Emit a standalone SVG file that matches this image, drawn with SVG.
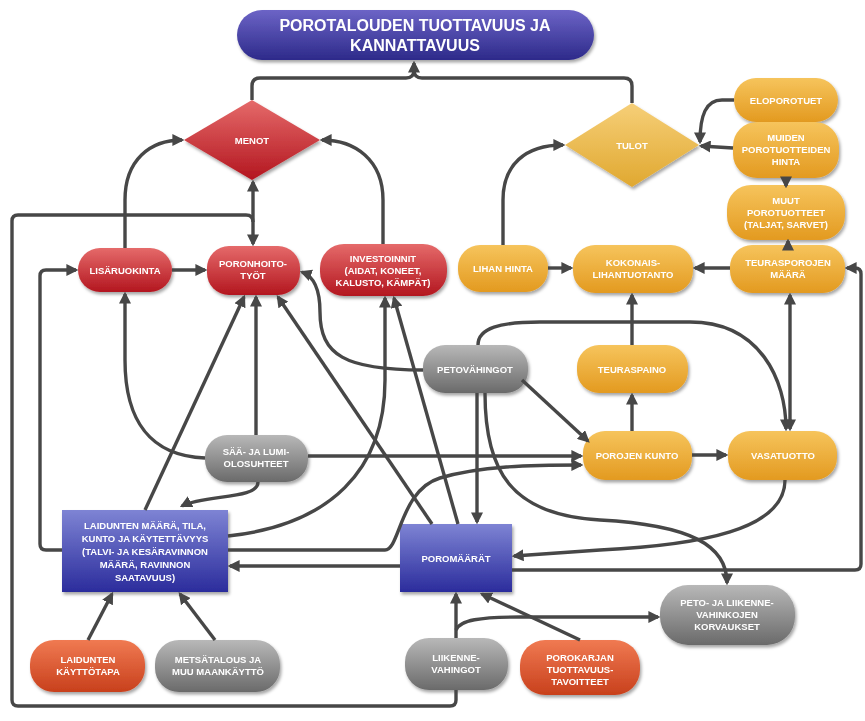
<svg xmlns="http://www.w3.org/2000/svg" width="865" height="721" viewBox="0 0 865 721">
<defs>
<linearGradient id="gRed" x1="0" y1="0" x2="0" y2="1"><stop offset="0" stop-color="#e56a6a"/><stop offset="1" stop-color="#b3161f"/></linearGradient>
<linearGradient id="gOr" x1="0" y1="0" x2="0" y2="1"><stop offset="0" stop-color="#f6c45c"/><stop offset="1" stop-color="#e39a20"/></linearGradient>
<linearGradient id="gGray" x1="0" y1="0" x2="0" y2="1"><stop offset="0" stop-color="#b8b8b8"/><stop offset="1" stop-color="#6a6a6a"/></linearGradient>
<linearGradient id="gTom" x1="0" y1="0" x2="0" y2="1"><stop offset="0" stop-color="#f07a52"/><stop offset="1" stop-color="#c8401c"/></linearGradient>
<linearGradient id="gBlue" x1="0" y1="0" x2="0" y2="1"><stop offset="0" stop-color="#7e84d4"/><stop offset="1" stop-color="#2b2c9c"/></linearGradient>
<linearGradient id="gTitle" x1="0" y1="0" x2="0" y2="1"><stop offset="0" stop-color="#6c64c6"/><stop offset="1" stop-color="#2d2a8a"/></linearGradient>
<linearGradient id="gTulot" x1="0" y1="0" x2="0" y2="1"><stop offset="0" stop-color="#f6cf78"/><stop offset="1" stop-color="#e0a830"/></linearGradient>
<filter id="sh" x="-20%" y="-20%" width="140%" height="150%"><feDropShadow dx="1.5" dy="2.5" stdDeviation="1.8" flood-color="#000" flood-opacity="0.35"/></filter>
<marker id="ah" viewBox="0 0 10 10" refX="8" refY="5" markerWidth="12" markerHeight="12" markerUnits="userSpaceOnUse" orient="auto-start-reverse"><path d="M0,0 L10,5 L0,10 z" fill="#474747"/></marker>
<style>
.t{font-family:"Liberation Sans",Arial,sans-serif;font-weight:bold;font-size:9.5px;fill:#fff;text-anchor:middle}
.tt{font-family:"Liberation Sans",Arial,sans-serif;font-weight:bold;font-size:16px;fill:#fff;text-anchor:middle}
.n{filter:url(#sh)}
.red{fill:url(#gRed)}
.or{fill:url(#gOr)}
.gr{fill:url(#gGray)}
.tom{fill:url(#gTom)}
.bl{fill:url(#gBlue)}
.c path{fill:none;stroke:#474747;stroke-width:3.4;stroke-linejoin:round}
.c .a{marker-end:url(#ah)}
.c .b{marker-start:url(#ah);marker-end:url(#ah)}
</style>
</defs>
<rect width="865" height="721" fill="#fff"/>

<g id="title" class="n"><rect x="237" y="10" width="357" height="50" rx="25" fill="url(#gTitle)"/><text class="tt" x="415" y="31">POROTALOUDEN TUOTTAVUUS JA</text><text class="tt" x="415" y="51">KANNATTAVUUS</text></g>

<g id="menot" class="n"><polygon points="252,100 320,140 252,180 184,140" fill="url(#gRed)"/><text class="t" x="252" y="144">MENOT</text></g>
<g id="tulot" class="n"><polygon points="632,103 699,145 632,187 565,145" fill="url(#gTulot)"/><text class="t" x="632" y="149">TULOT</text></g>

<g id="lisaruokinta" class="n"><rect class="red" x="78" y="248" width="94" height="44" rx="22"/><text class="t" x="125" y="274">LISÄRUOKINTA</text></g>
<g id="poronhoitotyot" class="n"><rect class="red" x="207" y="246" width="93" height="49" rx="22"/><text class="t" x="253" y="267">PORONHOITO-</text><text class="t" x="253" y="279">TYÖT</text></g>
<g id="investoinnit" class="n"><rect class="red" x="320" y="244" width="127" height="52" rx="24"/><text class="t" x="383" y="262">INVESTOINNIT</text><text class="t" x="383" y="274">(AIDAT, KONEET,</text><text class="t" x="383" y="286">KALUSTO, KÄMPÄT)</text></g>

<g id="eloporotuet" class="n"><rect class="or" x="734" y="78" width="104" height="44" rx="22"/><text class="t" x="786" y="104">ELOPOROTUET</text></g>
<g id="muiden" class="n"><rect class="or" x="733" y="122" width="106" height="56" rx="24"/><text class="t" x="786" y="141">MUIDEN</text><text class="t" x="786" y="153">POROTUOTTEIDEN</text><text class="t" x="786" y="165">HINTA</text></g>
<g id="muut" class="n"><rect class="or" x="727" y="185" width="118" height="55" rx="24"/><text class="t" x="786" y="204">MUUT</text><text class="t" x="786" y="216">POROTUOTTEET</text><text class="t" x="786" y="228">(TALJAT, SARVET)</text></g>
<g id="teurasporojen" class="n"><rect class="or" x="730" y="245" width="115" height="48" rx="22"/><text class="t" x="788" y="266">TEURASPOROJEN</text><text class="t" x="788" y="278">MÄÄRÄ</text></g>
<g id="kokonais" class="n"><rect class="or" x="573" y="245" width="120" height="48" rx="22"/><text class="t" x="633" y="266">KOKONAIS-</text><text class="t" x="633" y="278">LIHANTUOTANTO</text></g>
<g id="lihanhinta" class="n"><rect class="or" x="458" y="245" width="90" height="47" rx="22"/><text class="t" x="503" y="272">LIHAN HINTA</text></g>
<g id="teuraspaino" class="n"><rect class="or" x="577" y="345" width="111" height="48" rx="22"/><text class="t" x="632" y="373">TEURASPAINO</text></g>
<g id="porojenkunto" class="n"><rect class="or" x="583" y="431" width="109" height="49" rx="22"/><text class="t" x="637" y="459">POROJEN KUNTO</text></g>
<g id="vasatuotto" class="n"><rect class="or" x="728" y="431" width="109" height="49" rx="22"/><text class="t" x="783" y="459">VASATUOTTO</text></g>

<g id="petovahingot" class="n"><rect class="gr" x="423" y="345" width="105" height="48" rx="22"/><text class="t" x="475" y="373">PETOVÄHINGOT</text></g>
<g id="saa" class="n"><rect class="gr" x="205" y="435" width="103" height="47" rx="22"/><text class="t" x="256" y="455">SÄÄ- JA LUMI-</text><text class="t" x="256" y="467">OLOSUHTEET</text></g>
<g id="korvaukset" class="n"><rect class="gr" x="660" y="585" width="135" height="60" rx="28"/><text class="t" x="727" y="606">PETO- JA LIIKENNE-</text><text class="t" x="727" y="618">VAHINKOJEN</text><text class="t" x="727" y="630">KORVAUKSET</text></g>
<g id="liikennevahingot" class="n"><rect class="gr" x="405" y="638" width="103" height="52" rx="24"/><text class="t" x="456" y="661">LIIKENNE-</text><text class="t" x="456" y="673">VAHINGOT</text></g>
<g id="metsatalous" class="n"><rect class="gr" x="155" y="640" width="125" height="52" rx="24"/><text class="t" x="218" y="663">METSÄTALOUS JA</text><text class="t" x="218" y="675">MUU MAANKÄYTTÖ</text></g>

<g id="kayttotapa" class="n"><rect class="tom" x="30" y="640" width="115" height="52" rx="24"/><text class="t" x="88" y="663">LAIDUNTEN</text><text class="t" x="88" y="675">KÄYTTÖTAPA</text></g>
<g id="porokarjan" class="n"><rect class="tom" x="520" y="640" width="120" height="55" rx="25"/><text class="t" x="580" y="661">POROKARJAN</text><text class="t" x="580" y="673">TUOTTAVUUS-</text><text class="t" x="580" y="685">TAVOITTEET</text></g>

<g id="laidunten" class="n"><rect class="bl" x="62" y="510" width="166" height="82"/><text class="t" x="145" y="529">LAIDUNTEN MÄÄRÄ, TILA,</text><text class="t" x="145" y="542">KUNTO JA KÄYTETTÄVYYS</text><text class="t" x="145" y="555">(TALVI- JA KESÄRAVINNON</text><text class="t" x="145" y="568">MÄÄRÄ, RAVINNON</text><text class="t" x="145" y="581">SAATAVUUS)</text></g>
<g id="poromaarat" class="n"><rect class="bl" x="400" y="524" width="112" height="68"/><text class="t" x="456" y="562">POROMÄÄRÄT</text></g>

<g id="connectors" class="c">
<path class="a" d="M252,100 L252,86 Q252,78 260,78 L406,78 Q414,78 414,70 L414,63"/>
<path d="M632,103 L632,86 Q632,78 624,78 L422,78 Q414,78 414,70"/>
<path class="a" d="M125,248 L125,200 C125,160 150,140 182,140"/>
<path class="a" d="M383,244 L383,200 C383,160 355,140 322,140"/>
<path class="b" d="M253,182 L253,244"/>
<path d="M456,690 L456,700 Q456,706 450,706 L18,706 Q12,706 12,700 L12,221 Q12,215 18,215 L246,215 Q253,215 253,222"/>
<path class="a" d="M172,270 L205,270"/>
<path class="a" d="M62,550 L46,550 Q40,550 40,544 L40,276 Q40,270 46,270 L76,270"/>
<path class="a" d="M205,458 C150,456 125,420 125,360 L125,294"/>
<path class="a" d="M256,435 L256,297"/>
<path class="a" d="M308,456 L581,456"/>
<path class="a" d="M258,482 C258,500 205,494 182,506"/>
<path class="a" d="M145,510 L244,297"/>
<path class="a" d="M432,524 L278,297"/>
<path class="a" d="M423,370 C345,370 320,355 320,312 C320,288 313,276 302,272"/>
<path class="a" d="M228,536 C330,525 385,470 385,380 L385,298"/>
<path class="a" d="M458,524 L394,298"/>
<path class="a" d="M477,393 L477,522"/>
<path class="a" d="M522,380 L588,441"/>
<path class="a" d="M485,393 C485,470 510,515 600,520 C690,525 727,545 727,583"/>
<path class="a" d="M478,345 C478,328 500,322 540,322 L690,322 C760,322 786,380 786,429"/>
<path class="b" d="M790,295 L790,429"/>
<path class="a" d="M692,455 L726,455"/>
<path class="a" d="M632,431 L632,395"/>
<path class="a" d="M632,345 L632,295"/>
<path class="a" d="M730,268 L695,268"/>
<path class="a" d="M548,268 L571,268"/>
<path class="a" d="M503,245 L503,200 C503,165 525,145 563,145"/>
<path class="a" d="M788,248 L788,241"/>
<path class="a" d="M786,177 L786,186"/>
<path class="a" d="M733,148 L701,146"/>
<path class="a" d="M734,100 L722,100 C706,100 700,115 700,142"/>
<path class="a" d="M512,570 L855,570 Q861,570 861,564 L861,274 Q861,268 855,268 L847,268"/>
<path class="a" d="M785,480 C785,530 700,545 600,550 L514,556"/>
<path class="a" d="M400,566 L230,566"/>
<path class="a" d="M228,550 L385,550 C400,550 400,490 440,478 C480,466 530,465 581,465"/>
<path class="a" d="M456,638 L456,594"/>
<path class="a" d="M456,630 C460,620 480,617 520,617 L658,617"/>
<path class="a" d="M580,640 L482,594"/>
<path class="a" d="M88,640 L112,594"/>
<path class="a" d="M215,640 L180,594"/>
</g>
</svg>
